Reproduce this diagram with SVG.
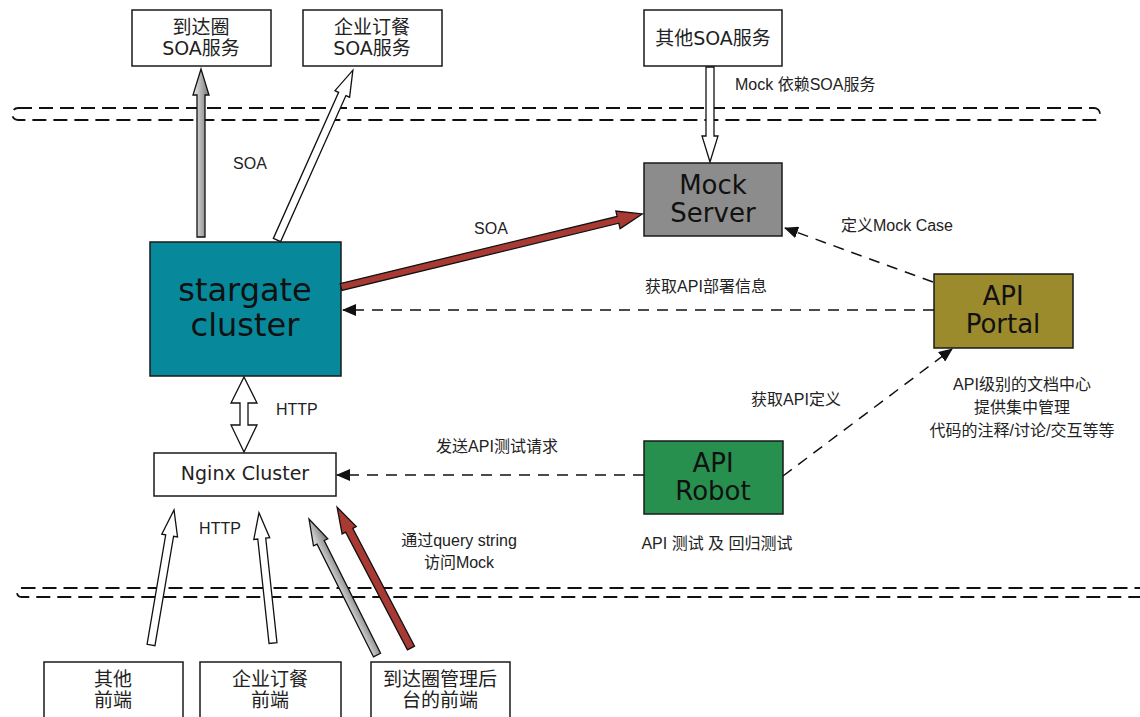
<svg xmlns="http://www.w3.org/2000/svg" width="1140" height="717" viewBox="0 0 1140 717">
<style>
.box{stroke:#1a1a1a;stroke-width:1.5}
.bt{font-family:"DejaVu Sans","Noto Sans CJK SC",sans-serif;font-size:19px;fill:#222;text-anchor:middle}
.big{font-family:"DejaVu Sans","Noto Sans CJK SC",sans-serif;fill:#111;text-anchor:middle}
.lb{font-family:"Liberation Sans","Noto Sans CJK SC",sans-serif;font-size:16px;fill:#222}
.dash{fill:none;stroke:#111;stroke-width:1.5;stroke-dasharray:11 8}
.sep{fill:none;stroke:#111;stroke-width:1.8;stroke-dasharray:14 7}
.ba{stroke:#111;stroke-width:1.3;stroke-linejoin:miter}
</style>
<defs>
<linearGradient id="gg" x1="0" y1="0" x2="0" y2="1">
<stop offset="0" stop-color="#ececec"/>
<stop offset="1" stop-color="#777"/>
</linearGradient>
<marker id="ah" markerWidth="14" markerHeight="12" refX="13" refY="6" orient="auto" markerUnits="userSpaceOnUse">
<path d="M0,0 L14,6 L0,12 Z" fill="#111"/>
</marker>
</defs>
<rect width="1140" height="717" fill="#fff"/>

<g id="separators">
<rect class="sep" x="12" y="108" width="1088" height="12" rx="6"/>
<rect class="sep" x="17" y="588" width="1140" height="9" rx="4.5"/>
</g>

<g id="node-daoda-soa">
<rect class="box" x="132" y="10" width="139" height="56" fill="#fff"/>
<text class="bt" x="201" y="34">到达圈</text>
<text class="bt" x="201" y="55">SOA服务</text>
</g>
<g id="node-qiye-soa">
<rect class="box" x="303" y="10" width="139" height="56" fill="#fff"/>
<text class="bt" x="372" y="34">企业订餐</text>
<text class="bt" x="372" y="55">SOA服务</text>
</g>
<g id="node-other-soa">
<rect class="box" x="644" y="10" width="138" height="56" fill="#fff"/>
<text class="bt" x="713" y="45">其他SOA服务</text>
</g>
<g id="node-mock">
<rect class="box" x="644" y="163" width="138" height="73" fill="#8c8c8c"/>
<text class="big" x="713" y="194" font-size="26">Mock</text>
<text class="big" x="713" y="222" font-size="26">Server</text>
</g>
<g id="node-stargate">
<rect class="box" x="150" y="242" width="191" height="134" fill="#07899b"/>
<text class="big" x="245" y="301" font-size="32">stargate</text>
<text class="big" x="245" y="336" font-size="32">cluster</text>
</g>
<g id="node-portal">
<rect class="box" x="934" y="274" width="139" height="74" fill="#9b8b2d"/>
<text class="big" x="1003" y="305" font-size="26">API</text>
<text class="big" x="1003" y="333" font-size="26">Portal</text>
</g>
<g id="node-robot">
<rect class="box" x="644" y="441" width="139" height="73" fill="#28904f"/>
<text class="big" x="713" y="472" font-size="26">API</text>
<text class="big" x="713" y="500" font-size="26">Robot</text>
</g>
<g id="node-nginx">
<rect class="box" x="154" y="453" width="182" height="43" fill="#fff"/>
<text class="bt" x="245" y="480" font-size="17">Nginx Cluster</text>
</g>
<g id="node-other-fe">
<rect class="box" x="44" y="662" width="139" height="70" fill="#fff"/>
<text class="bt" x="113" y="686">其他</text>
<text class="bt" x="113" y="707">前端</text>
</g>
<g id="node-qiye-fe">
<rect class="box" x="200" y="662" width="141" height="70" fill="#fff"/>
<text class="bt" x="270" y="686">企业订餐</text>
<text class="bt" x="270" y="707">前端</text>
</g>
<g id="node-daoda-fe">
<rect class="box" x="371" y="662" width="139" height="70" fill="#fff"/>
<text class="bt" x="440" y="686">到达圈管理后</text>
<text class="bt" x="440" y="707">台的前端</text>
</g>

<g id="connectors">
<path class="ba" fill="url(#gg)" transform="translate(201,237) rotate(-90)" d="M0,-4 L142,-4 L142,-8 L168,0 L142,8 L142,4 L0,4 Z"/>
<path class="ba" fill="#fff" transform="translate(277,240) rotate(-65.92)" d="M0,-4 L160,-4 L160,-8 L186,0 L160,8 L160,4 L0,4 Z"/>
<path class="ba" fill="#a83a33" transform="translate(341,287) rotate(-13.63)" d="M0,-3.5 L285,-3.5 L285,-9 L310,0 L285,9 L285,3.5 L0,3.5 Z"/>
<path class="ba" fill="#fff" transform="translate(710,67) rotate(90)" d="M0,-4 L69,-4 L69,-8 L95,0 L69,8 L69,4 L0,4 Z"/>
<path class="ba" fill="#fff" d="M244,377 L257,403 L248,403 L248,425 L257,425 L244,452 L231,425 L240,425 L240,403 L231,403 Z"/>
<path class="ba" fill="#fff" transform="translate(151,645) rotate(-80.33)" d="M0,-4 L111,-4 L111,-8 L137,0 L111,8 L111,4 L0,4 Z"/>
<path class="ba" fill="#fff" transform="translate(273,643) rotate(-96.15)" d="M0,-4 L105,-4 L105,-8 L131,0 L105,8 L105,4 L0,4 Z"/>
<path class="ba" fill="url(#gg)" transform="translate(377,655) rotate(-116.57)" d="M0,-4 L126,-4 L126,-8 L152,0 L126,8 L126,4 L0,4 Z"/>
<path class="ba" fill="#a83a33" transform="translate(411,648) rotate(-117.69)" d="M0,-4 L133,-4 L133,-8 L159,0 L133,8 L133,4 L0,4 Z"/>
<path class="dash" marker-end="url(#ah)" d="M934,310 L343,310"/>
<path class="dash" marker-end="url(#ah)" d="M933,282 L785,228"/>
<path class="dash" marker-end="url(#ah)" d="M783,476 L952,349"/>
<path class="dash" marker-end="url(#ah)" d="M644,475 L337,475"/>
</g>

<g id="labels">
<text class="lb" x="250" y="169" text-anchor="middle">SOA</text>
<text class="lb" x="491" y="234" text-anchor="middle">SOA</text>
<text class="lb" x="735" y="90">Mock 依赖SOA服务</text>
<text class="lb" x="897" y="231" text-anchor="middle">定义Mock Case</text>
<text class="lb" x="706" y="292" text-anchor="middle">获取API部署信息</text>
<text class="lb" x="276" y="415">HTTP</text>
<text class="lb" x="796" y="405" text-anchor="middle">获取API定义</text>
<text class="lb" x="1022" y="390" text-anchor="middle">API级别的文档中心</text>
<text class="lb" x="1022" y="413" text-anchor="middle">提供集中管理</text>
<text class="lb" x="1022" y="436" text-anchor="middle">代码的注释/讨论/交互等等</text>
<text class="lb" x="497" y="452" text-anchor="middle">发送API测试请求</text>
<text class="lb" x="717" y="549" text-anchor="middle">API 测试 及 回归测试</text>
<text class="lb" x="220" y="534" text-anchor="middle">HTTP</text>
<text class="lb" x="459" y="546" text-anchor="middle">通过query string</text>
<text class="lb" x="459" y="568" text-anchor="middle">访问Mock</text>
</g>
</svg>
